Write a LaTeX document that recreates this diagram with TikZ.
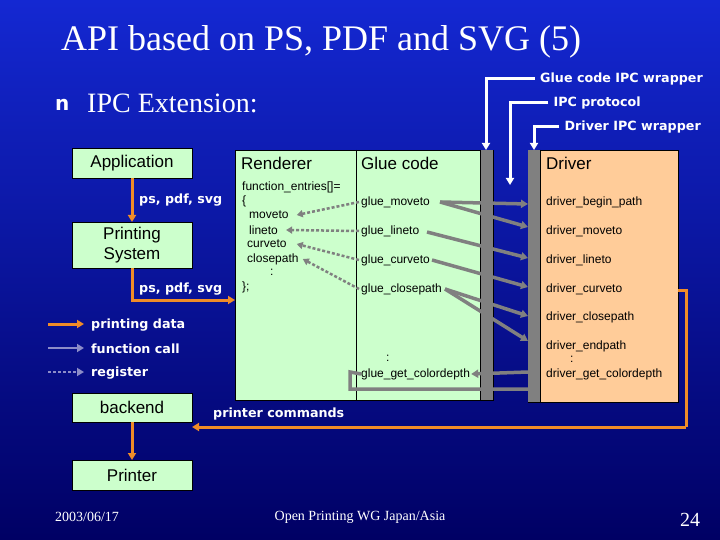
\documentclass[tikz,border=0pt]{standalone}
\usepackage{fontspec}
\setmainfont{Liberation Serif}
\newfontfamily\tah{Liberation Sans}
\newfontfamily\verd{DejaVu Sans}
\usetikzlibrary{arrows.meta}
\definecolor{bgtop}{RGB}{20,40,210}
\definecolor{bgbot}{RGB}{0,0,100}
\definecolor{boxg}{RGB}{204,255,204}
\definecolor{boxo}{RGB}{255,204,153}
\definecolor{orng}{RGB}{240,140,40}
\definecolor{gbar}{RGB}{128,128,128}
\definecolor{fcall}{RGB}{140,140,200}
\tikzset{
 gbox/.style={draw=black,fill=boxg,line width=0.8pt,inner sep=0pt},
 btxt/.style={font=\tah\fontsize{17}{20}\selectfont,text=black,align=center},
 small/.style={font=\tah\fontsize{12}{13}\selectfont,text=black,anchor=west,inner sep=0pt},
 lbl/.style={font=\verd\bfseries\fontsize{12.7}{14}\selectfont,text=white,anchor=west,inner sep=0pt},
 odata/.style={draw=orng,line width=3pt,-{Triangle[length=7pt,width=8pt]}},
 gcall/.style={draw=gbar,line width=3.5pt,-{Triangle[length=7pt,width=8pt]}},
 greg/.style={draw=gbar,line width=2.5pt,dash pattern=on 3pt off 2pt,-{Triangle[length=6pt,width=7pt]}},
 wpt/.style={draw=white,line width=3pt,-{Triangle[length=7pt,width=8pt]}}
}
\begin{document}
\begin{tikzpicture}[x=1pt,y=-1pt]
\useasboundingbox (0,0) rectangle (720,540);
\shade[top color=bgtop,bottom color=bgbot] (0,0) rectangle (720,540);
\node[text=white,font=\fontsize{36}{38}\selectfont,anchor=west,inner sep=0pt] (title) at (61,42) {API based on PS, PDF and SVG (5)};
\node[text=white,font=\verd\bfseries\fontsize{20}{20}\selectfont,anchor=base west,inner sep=0pt] (bul) at (55,111) {n};
\node[text=white,font=\fontsize{28}{30}\selectfont,anchor=base west,inner sep=0pt] (bt) at (87,113) {IPC Extension:};
% left boxes
\draw[gbox] (72,148) rectangle (192,178); \node[btxt] (app) at (132,163) {Application};
\draw[gbox] (72,222) rectangle (192,268); \node[btxt] (ps) at (132,245) {Printing\\System};
\draw[gbox] (72,393) rectangle (192,422); \node[btxt] (be) at (132,407.5) {backend};
\draw[gbox] (72,460) rectangle (192,490); \node[btxt] (pr) at (132,475) {Printer};
\coordinate (appb) at (132,178); \coordinate (pst) at (132,222); \coordinate (psb) at (132,268);
\coordinate (beb) at (132,422); \coordinate (prt) at (132,460); \coordinate (ber) at (192,427);
% big boxes
\draw[gbox] (235,150) rectangle (493,400);
\draw[black,line width=0.8pt] (356,150) -- (356,400);
\fill[gbar] (480,150) rectangle (493,400); \draw[black,line width=0.8pt] (480,150)--(480,400);
\draw[draw=black,fill=boxo,line width=0.8pt] (528,150) rectangle (678,402);
\fill[gbar] (528.4,150.4) rectangle (540,401.6); \draw[black,line width=0.8pt] (540,150)--(540,402);
\node[btxt,anchor=west,inner sep=0pt] (ren) at (241,163) {Renderer};
\node[btxt,anchor=west,inner sep=0pt] (glue) at (361,163) {Glue code};
\node[btxt,anchor=west,inner sep=0pt] (drv) at (546,163) {Driver};
% renderer items
\node[small] (fe) at (242,187) {function\_entries[]=};
\node[small] at (242,201) {\{};
\node[small] (rm) at (249,215) {moveto};
\node[small] (rl) at (249,230) {lineto};
\node[small] (rc) at (247,244) {curveto};
\node[small] (rcp) at (247,259) {closepath};
\node[small] at (270,272) {:};
\node[small] at (242,287) {\};};
% glue items
\node[small] (gm) at (361,202) {glue\_moveto};
\node[small] (gl) at (361,231) {glue\_lineto};
\node[small] (gc) at (361,260) {glue\_curveto};
\node[small] (gcp) at (361,289) {glue\_closepath};
\node[small] at (386,358) {:};
\node[small] (gg) at (361,374) {glue\_get\_colordepth};
% driver items
\node[small] (d1) at (546,202) {driver\_begin\_path};
\node[small] (d2) at (546,231) {driver\_moveto};
\node[small] (d3) at (546,260) {driver\_lineto};
\node[small] (d4) at (546,289) {driver\_curveto};
\node[small] (d5) at (546,317) {driver\_closepath};
\node[small] (d6) at (546,346) {driver\_endpath};
\node[small] at (570,359) {:};
\node[small] (d7) at (546,374) {driver\_get\_colordepth};
% register arrows
\draw[greg] ([xshift=-2pt]gm.west) -- ([xshift=8pt]rm.east);
\draw[greg] ([xshift=-2pt]gl.west) -- ([xshift=8pt]rl.east);
\draw[greg] ([xshift=-2pt]gc.west) -- ([xshift=10pt]rc.east);
\draw[greg] ([xshift=-2pt]gcp.west) -- ([xshift=4pt]rcp.east);
% function calls
\coordinate (gme) at (440,202);
\draw[gcall] (gme) -- (528,204);
\draw[gcall] (gme) -- (528,227);
\draw[gcall] (427,232) -- (528,258);
\draw[gcall] (432,260) -- (528,287);
\coordinate (gcpe) at (445,289);
\draw[gcall] (gcpe) -- (528,316);
\draw[gcall] (gcpe) -- (528,341);
\draw[gcall] (528,372) -- ([xshift=1pt]gg.east);
\draw[gbar,line width=3.5pt] (528,389) -- (350,389) -- (350,372) -- (gg.west);
% data arrows
\draw[odata] (appb) -- (pst);
\node[lbl] at (139,200) {ps, pdf, svg};
\draw[odata] (psb) |- (235,300);
\node[lbl] at (139,289) {ps, pdf, svg};
\draw[orng,line width=3pt] (678,290) -- (686,290) -- (686,427);
\draw[odata] (686,427) -- (ber);
\node[lbl] at (213,414) {printer commands};
\draw[odata] (beb) -- (prt);
% legend
\draw[odata] (48,324) -- (84,324); \node[lbl] at (91,325) {printing data};
\draw[draw=fcall,line width=2.5pt,-{Triangle[length=7pt,width=8pt]}] (48,348) -- (84,348); \node[lbl] at (91,349) {function call};
\draw[draw=fcall,line width=2.5pt,dash pattern=on 3pt off 2pt,-{Triangle[length=7pt,width=8pt]}] (48,372) -- (84,372); \node[lbl] at (91,373) {register};
% IPC labels
\node[lbl,anchor=east] (t1) at (703,79) {Glue code IPC wrapper};
\node[lbl,anchor=east] (t2) at (641,103) {IPC protocol};
\node[lbl,anchor=east] (t3) at (701,127) {Driver IPC wrapper};
\draw[wpt] ([xshift=-5pt]t1.west) -| (486,150);
\draw[wpt] ([xshift=-5pt]t2.west) -| (510,185);
\draw[wpt] ([xshift=-5pt]t3.west) -| (534,150);
% footer
\node[text=white,font=\fontsize{14}{16}\selectfont,anchor=west,inner sep=0pt] at (55,517) {2003/06/17};
\node[text=white,font=\fontsize{14}{16}\selectfont,inner sep=0pt] at (360,517) {Open Printing WG Japan/Asia};
\node[text=white,font=\fontsize{20}{22}\selectfont,inner sep=0pt] at (690,520) {24};
\end{tikzpicture}
\end{document}
